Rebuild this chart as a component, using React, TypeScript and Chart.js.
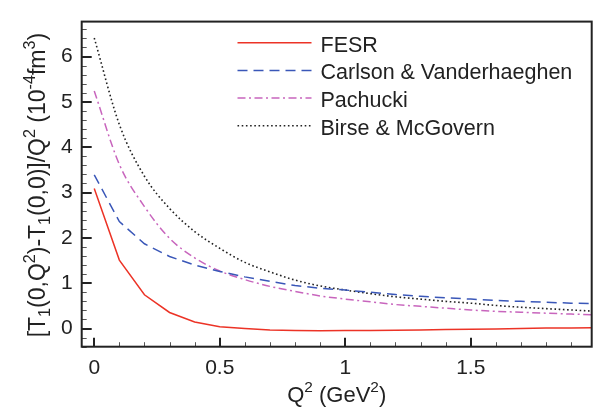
import React, { useEffect, useRef } from "react";
import { Chart, registerables } from "chart.js";

Chart.register(...registerables);

// ---- data ----
const q2 = [0, 0.1, 0.2, 0.3, 0.4, 0.5, 0.6, 0.7, 0.8, 0.9, 1.0, 1.1, 1.2, 1.3, 1.4, 1.5, 1.6, 1.7, 1.8, 1.9, 2.0];
const fesr = [3.09, 1.51, 0.745, 0.355, 0.145, 0.04, 0.0, -0.03, -0.045, -0.05, -0.045, -0.04, -0.035, -0.03, -0.02, -0.015, -0.01, 0.0, 0.01, 0.015, 0.02];
const carlson = [3.39, 2.36, 1.87, 1.59, 1.4, 1.26, 1.14, 1.04, 0.95, 0.89, 0.85, 0.8, 0.75, 0.71, 0.68, 0.65, 0.62, 0.6, 0.58, 0.56, 0.55];
const pachucki = [5.24, 3.62, 2.69, 1.99, 1.56, 1.27, 1.08, 0.93, 0.82, 0.72, 0.65, 0.59, 0.53, 0.49, 0.45, 0.41, 0.38, 0.36, 0.34, 0.32, 0.3];
const birse = [6.41, 4.5, 3.36, 2.65, 2.14, 1.77, 1.46, 1.25, 1.07, 0.94, 0.85, 0.77, 0.7, 0.65, 0.6, 0.56, 0.51, 0.47, 0.44, 0.41, 0.38];
const seriesLabels = ["FESR", "Carlson & Vanderhaeghen", "Pachucki", "Birse & McGovern"];
const xTicks = [0, 0.5, 1, 1.5];
const xTickLabels = ["0", "0.5", "1", "1.5"];
const yTicks = [0, 1, 2, 3, 4, 5, 6];
const yTickLabels = ["0", "1", "2", "3", "4", "5", "6"];

const FONT = "'Liberation Sans', Arial, Helvetica, sans-serif";
const INK = "#222222";

type Seg = { t: string; k?: "sup" | "sub" };
const yTitle: Seg[] = [
  { t: "[T" }, { t: "1", k: "sub" }, { t: "(0,Q" }, { t: "2", k: "sup" }, { t: ")-T" }, { t: "1", k: "sub" },
  { t: "(0,0)]/Q" }, { t: "2", k: "sup" }, { t: " (10" }, { t: "-4", k: "sup" }, { t: "fm" }, { t: "3", k: "sup" }, { t: ")" },
];
const xTitle: Seg[] = [{ t: "Q" }, { t: "2", k: "sup" }, { t: " (GeV" }, { t: "2", k: "sup" }, { t: ")" }];

function richWidth(ctx: CanvasRenderingContext2D, segs: Seg[], size: number) {
  let w = 0;
  for (const s of segs) {
    const fs = s.k ? size * 0.7 : size;
    ctx.font = `${fs}px ${FONT}`;
    w += ctx.measureText(s.t).width;
  }
  return w;
}
function drawRich(ctx: CanvasRenderingContext2D, segs: Seg[], cx: number, baseY: number, size: number) {
  const w = richWidth(ctx, segs, size);
  let x = cx - w / 2;
  ctx.textBaseline = "alphabetic";
  ctx.textAlign = "left";
  for (const s of segs) {
    const fs = s.k ? size * 0.7 : size;
    ctx.font = `${fs}px ${FONT}`;
    const dy = s.k === "sup" ? -size * 0.42 : s.k === "sub" ? size * 0.22 : 0;
    ctx.fillText(s.t, x, baseY + dy);
    x += ctx.measureText(s.t).width;
  }
}

const decorPlugin = {
  id: "decor",
  afterDatasetsDraw(chart: any) {
    const ctx: CanvasRenderingContext2D = chart.ctx;
    const { left, right, top, bottom } = chart.chartArea;
    const xs = chart.scales.x;
    const ys = chart.scales.y;
    ctx.save();
    // minor ticks
    ctx.strokeStyle = "#555555";
    ctx.lineWidth = 1;
    for (let i = 0; i <= 19; i++) {
      const v = i / 10;
      if (i % 5 === 0) continue;
      const px = Math.round(xs.getPixelForValue(v)) + 0.5;
      ctx.beginPath(); ctx.moveTo(px, bottom); ctx.lineTo(px, bottom - 4.5); ctx.stroke();
    }
    for (let i = -2; i <= 33; i++) {
      if (i % 5 === 0) continue;
      const v = i / 5;
      const py = Math.round(ys.getPixelForValue(v)) + 0.5;
      ctx.beginPath(); ctx.moveTo(left, py); ctx.lineTo(left + 5, py); ctx.stroke();
    }
    // major ticks
    ctx.strokeStyle = INK;
    ctx.lineWidth = 2;
    for (const v of xTicks) {
      const px = Math.round(xs.getPixelForValue(v));
      ctx.beginPath(); ctx.moveTo(px, bottom); ctx.lineTo(px, bottom - 9); ctx.stroke();
    }
    for (const v of yTicks) {
      const py = Math.round(ys.getPixelForValue(v));
      ctx.beginPath(); ctx.moveTo(left, py); ctx.lineTo(left + 10, py); ctx.stroke();
    }
    // frame
    ctx.lineWidth = 2;
    ctx.strokeRect(left, top, right - left, bottom - top);

    // legend
    const ds = chart.data.datasets;
    for (let i = 0; i < ds.length; i++) {
      const y = 42.7 + i * 27.7;
      ctx.save();
      ctx.strokeStyle = ds[i].borderColor;
      ctx.lineWidth = ds[i].borderWidth;
      ctx.setLineDash(ds[i].borderDash || []);
      ctx.beginPath(); ctx.moveTo(237.5, y); ctx.lineTo(311.5, y); ctx.stroke();
      ctx.restore();
      ctx.fillStyle = INK;
      ctx.font = `21.5px ${FONT}`;
      ctx.textAlign = "left";
      ctx.textBaseline = "alphabetic";
      ctx.fillText(ds[i].label, 320.5, y + 8.8);
    }

    // axis titles
    ctx.fillStyle = INK;
    drawRich(ctx, xTitle, (left + right) / 2, 401.5, 22);
    ctx.save();
    ctx.translate(44.5, (top + bottom) / 2 + 1);
    ctx.rotate(-Math.PI / 2);
    drawRich(ctx, yTitle, 0, 0, 23);
    ctx.restore();
    ctx.restore();
  },
};

export default function App() {
  const ref = useRef<HTMLCanvasElement | null>(null);
  useEffect(() => {
    if (!ref.current) return;
    const mk = (arr: number[]) => q2.map((x, i) => ({ x, y: arr[i] }));
    const chart = new Chart(ref.current, {
      type: "line",
      data: {
        datasets: [
          { label: seriesLabels[0], data: mk(fesr), borderColor: "#ec3326", borderWidth: 1.5, tension: 0, pointRadius: 0, fill: false },
          { label: seriesLabels[1], data: mk(carlson), borderColor: "#3a57b8", borderWidth: 1.5, borderDash: [10, 6], tension: 0, pointRadius: 0, fill: false },
          { label: seriesLabels[2], data: mk(pachucki), borderColor: "#c865bd", borderWidth: 1.5, borderDash: [8, 3.5, 2, 3.5], cubicInterpolationMode: "monotone", pointRadius: 0, fill: false },
          { label: seriesLabels[3], data: mk(birse), borderColor: "#222222", borderWidth: 1.6, borderDash: [1.6, 2.6], cubicInterpolationMode: "monotone", pointRadius: 0, fill: false },
        ] as any,
      },
      options: {
        animation: false,
        responsive: false,
        maintainAspectRatio: false,
        layout: { padding: { left: 0, right: 9.3, top: 6, bottom: 0 } },
        plugins: { legend: { display: false }, tooltip: { enabled: false } },
        scales: {
          x: {
            type: "linear",
            min: -0.05,
            max: 1.982,
            grid: { display: false, drawTicks: false },
            border: { display: false },
            afterBuildTicks: (s: any) => { s.ticks = xTicks.map((v) => ({ value: v })); },
            afterFit: (s: any) => { s.height = 416 - 346.7; },
            ticks: {
              autoSkip: false, maxRotation: 0, padding: 9, color: INK,
              font: { family: FONT, size: 21 },
              callback: (v: any) => xTickLabels[xTicks.indexOf(Number(v))] ?? "",
            },
          },
          y: {
            type: "linear",
            min: -0.4,
            max: 6.77,
            grid: { display: false, drawTicks: false },
            border: { display: false },
            afterBuildTicks: (s: any) => { s.ticks = yTicks.map((v) => ({ value: v })); },
            afterFit: (s: any) => { s.width = 81.7; },
            ticks: {
              autoSkip: false, padding: 9, color: INK,
              font: { family: FONT, size: 21 },
              callback: (v: any) => yTickLabels[yTicks.indexOf(Number(v))] ?? "",
            },
          },
        },
      } as any,
      plugins: [decorPlugin],
    });
    return () => chart.destroy();
  }, []);
  return (
    <div style={{ position: "absolute", left: 0, top: 0, width: 601, height: 416, background: "#fff" }}>
      <canvas ref={ref} width={601} height={416} style={{ display: "block" }} />
    </div>
  );
}
